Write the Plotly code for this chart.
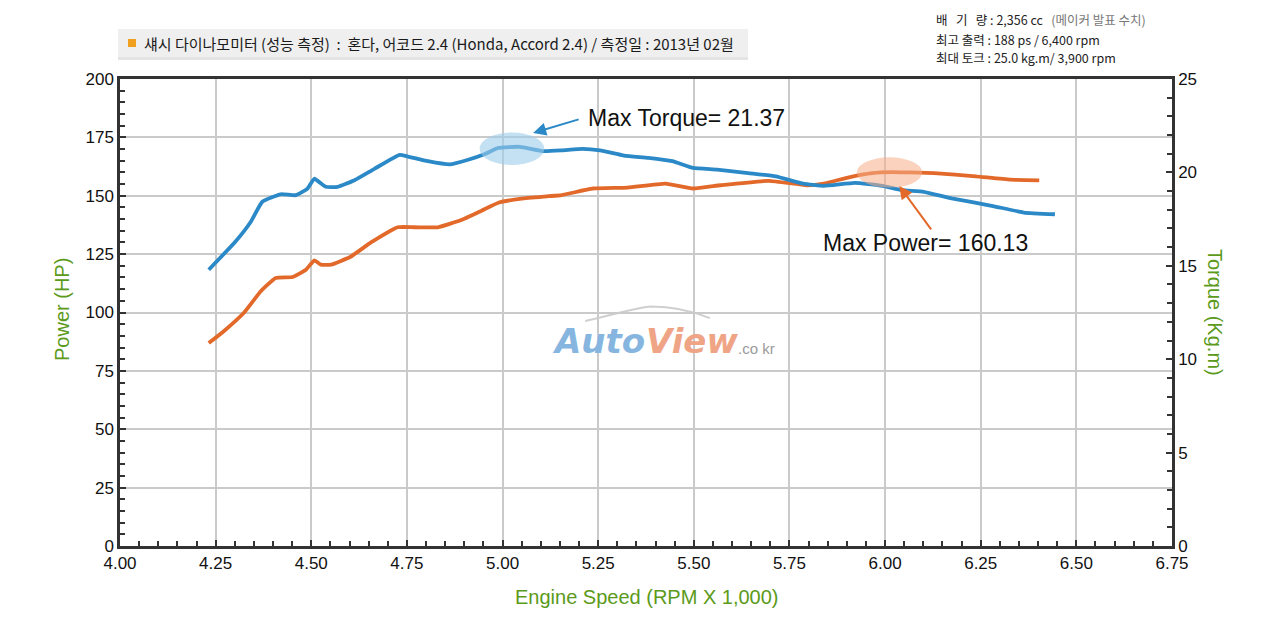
import plotly.graph_objects as go

# ---------------- data ----------------
rpm_power = [4.232, 4.272, 4.324, 4.368, 4.407, 4.451, 4.486, 4.508, 4.525, 4.552,
             4.604, 4.656, 4.726, 4.770, 4.831, 4.892, 4.945, 4.989, 5.050, 5.120,
             5.155, 5.236, 5.327, 5.426, 5.498, 5.570, 5.696, 5.795, 5.840, 5.903,
             5.966, 6.020, 6.056, 6.128, 6.237, 6.327, 6.403]
power_hp = [86.9, 92.1, 99.9, 109.1, 114.8, 115.2, 118.3, 122.3, 120.5, 120.5,
            124.0, 130.0, 136.5, 136.5, 136.5, 139.6, 143.6, 147.0, 148.8, 149.8,
            150.3, 153.1, 153.5, 155.2, 153.1, 154.5, 156.4, 154.5, 155.2, 157.8,
            159.7, 160.13, 160.0, 159.7, 158.3, 156.9, 156.6]

rpm_torque = [4.232, 4.302, 4.342, 4.372, 4.420, 4.460, 4.490, 4.508, 4.538, 4.569,
              4.613, 4.665, 4.731, 4.753, 4.805, 4.862, 4.910, 4.954, 4.989, 5.045,
              5.107, 5.155, 5.209, 5.255, 5.318, 5.381, 5.444, 5.498, 5.561, 5.642,
              5.714, 5.786, 5.840, 5.921, 5.993, 6.043, 6.101, 6.174, 6.282, 6.363, 6.444]
torque_kgm = [14.79, 16.30, 17.36, 18.43, 18.83, 18.78, 19.13, 19.66, 19.23, 19.23,
              19.58, 20.19, 20.94, 20.85, 20.60, 20.43, 20.68, 20.99, 21.31, 21.37,
              21.14, 21.18, 21.26, 21.18, 20.90, 20.78, 20.60, 20.24, 20.15, 19.96,
              19.79, 19.40, 19.28, 19.44, 19.28, 19.05, 18.96, 18.61, 18.20, 17.85, 17.76]

x_ticks = [4.00, 4.25, 4.50, 4.75, 5.00, 5.25, 5.50, 5.75, 6.00, 6.25, 6.50, 6.75]
power_ticks = [0, 25, 50, 75, 100, 125, 150, 175, 200]
torque_ticks = [0, 5, 10, 15, 20, 25]

header_text = "섀시 다이나모미터 (성능 측정)  :  혼다, 어코드 2.4 (Honda, Accord 2.4) / 측정일 : 2013년 02월"
spec_lines = ["배\u00a0\u00a0\u00a0기\u00a0\u00a0\u00a0량 : 2,356 cc \u00a0\u00a0<span style='color:#777777'>(메이커 발표 수치)</span>",
              "최고 출력 : 188 ps / 6,400 rpm",
              "최대 토크 : 25.0 kg.m/ 3,900 rpm"]
max_torque_label = "Max Torque= 21.37"
max_power_label = "Max Power= 160.13"

# ---------------- styling ----------------
BLUE = "#2b89c7"
ORANGE = "#e2692a"
GREEN = "#5b9a1a"
AXIS = "#333333"
GRID = "#cacaca"
FONT = "Liberation Sans, Arial, sans-serif"
KFONT = "Noto Sans CJK KR, sans-serif"

L, R, T, B = 120, 108, 79, 74
PW, PH = 1280 - L - R, 620 - T - B


def px(xp):
    return (xp - L) / PW


def py(yp):
    return (620 - B - yp) / PH


fig = go.Figure()
fig.add_trace(go.Scatter(x=rpm_power, y=power_hp, mode="lines", name="Power",
                         line=dict(color=ORANGE, width=3.8, shape="spline", smoothing=0.4),
                         yaxis="y", hoverinfo="skip"))
fig.add_trace(go.Scatter(x=rpm_torque, y=torque_kgm, mode="lines", name="Torque",
                         line=dict(color=BLUE, width=3.8, shape="spline", smoothing=0.4),
                         yaxis="y2", hoverinfo="skip"))

fig.update_layout(
    width=1280, height=620,
    margin=dict(l=L, r=R, t=T, b=B),
    paper_bgcolor="white", plot_bgcolor="white",
    showlegend=False,
    font=dict(family=FONT, color="#111111"),
    xaxis=dict(range=[4.0, 6.75], tickvals=x_ticks, tickformat=".2f",
               showgrid=True, gridcolor=GRID, gridwidth=1.5,
               showline=True, linecolor=AXIS, linewidth=2.5, mirror=True,
               ticks="inside", ticklen=6, tickwidth=1.5, tickcolor=AXIS,
               minor=dict(dtick=0.05, ticks="inside", ticklen=5, tickwidth=1.5,
                          tickcolor=AXIS, showgrid=False),
               tickfont=dict(size=17, color="#111111"), zeroline=False, fixedrange=True),
    yaxis=dict(range=[0, 200], tickvals=power_ticks,
               showgrid=True, gridcolor=GRID, gridwidth=1.5,
               showline=True, linecolor=AXIS, linewidth=2.5,
               ticks="inside", ticklen=6, tickwidth=1.5, tickcolor=AXIS,
               minor=dict(dtick=5, ticks="inside", ticklen=5, tickwidth=1.5,
                          tickcolor=AXIS, showgrid=False),
               tickfont=dict(size=17, color="#111111"), zeroline=False, fixedrange=True),
    yaxis2=dict(range=[0, 25], tickvals=torque_ticks, overlaying="y", side="right",
                showgrid=False, showline=True, linecolor=AXIS, linewidth=2.5,
                ticks="inside", ticklen=6, tickwidth=1.5, tickcolor=AXIS,
                minor=dict(dtick=1, ticks="inside", ticklen=5, tickwidth=1.5,
                           tickcolor=AXIS, showgrid=False),
                tickfont=dict(size=17, color="#111111"), zeroline=False, fixedrange=True),
)

shapes = [
    # header bar
    dict(type="rect", xref="paper", yref="paper", x0=px(118), x1=px(748), y0=py(59), y1=py(29),
         fillcolor="#efefef", line=dict(width=0), layer="below"),
    dict(type="rect", xref="paper", yref="paper", x0=px(118), x1=px(748), y0=py(60), y1=py(57),
         fillcolor="#e4e4e4", line=dict(width=0), layer="below"),
    dict(type="rect", xref="paper", yref="paper", x0=px(128), x1=px(136), y0=py(47), y1=py(39),
         fillcolor="#f0a01e", line=dict(width=0)),
    # highlight ellipses
    dict(type="circle", xref="x", yref="y", x0=4.94, x1=5.109, y0=163.2, y1=177.1,
         fillcolor="#9ccbeb", opacity=0.6, line=dict(width=0), layer="above"),
    dict(type="circle", xref="x", yref="y", x0=5.926, x1=6.097, y0=153.5, y1=166.5,
         fillcolor="#f5ad88", opacity=0.55, line=dict(width=0), layer="above"),
    # watermark swoosh
    dict(type="path", xref="x", yref="y",
         path="M 5.216,96.4 C 5.28,98.5 5.33,101.5 5.386,102.6 C 5.45,102.6 5.50,100.5 5.542,97.6",
         line=dict(color="#cfcfcf", width=2), layer="below"),
]
fig.update_layout(shapes=shapes)

C = dict(xanchor="center", yanchor="middle", showarrow=False)
ann = [
    # header
    dict(xref="paper", yref="paper", x=px(142), y=py(43), xanchor="left", yanchor="middle",
         text=header_text, showarrow=False, font=dict(family=KFONT, size=15, color="#1a1a1a")),
    # axis titles
    dict(xref="paper", yref="paper", x=px(62), y=py(310), text="Power (HP)", textangle=-90,
         font=dict(family=FONT, size=20, color=GREEN), **C),
    dict(xref="paper", yref="paper", x=px(1215), y=py(312), text="Torque (Kg.m)", textangle=90,
         font=dict(family=FONT, size=20, color=GREEN), **C),
    dict(xref="paper", yref="paper", x=px(647), y=py(597), text="Engine Speed (RPM X 1,000)",
         font=dict(family=FONT, size=20, color=GREEN), **C),
    # max labels
    dict(xref="paper", yref="paper", x=px(586), y=py(118), xanchor="left", yanchor="middle",
         text=max_torque_label, showarrow=False, font=dict(family=FONT, size=23, color="#111111")),
    dict(xref="paper", yref="paper", x=px(821), y=py(243), xanchor="left", yanchor="middle",
         text=max_power_label, showarrow=False, font=dict(family=FONT, size=23, color="#111111")),
    # arrows
    dict(xref="x", yref="y", x=5.080, y=176.9, ax=47, ay=-14, text="", showarrow=True,
         arrowhead=2, arrowsize=1.3, arrowwidth=2, arrowcolor=BLUE),
    dict(xref="x", yref="y", x=6.037, y=154.2, ax=33, ay=45, text="", showarrow=True,
         arrowhead=2, arrowsize=1.3, arrowwidth=2, arrowcolor=ORANGE),
    # watermark
    dict(xref="x", yref="y", x=5.25, y=88.0, text="Auto",
         font=dict(family="DejaVu Sans", size=34, color="#86b6df", weight="bold", style="italic"), **C),
    dict(xref="x", yref="y", x=5.495, y=88.0, text="View",
         font=dict(family="DejaVu Sans", size=34, color="#efa486", weight="bold", style="italic"), **C),
    dict(xref="x", yref="y", x=5.665, y=84.5, text=".co kr",
         font=dict(family=FONT, size=15, color="#9a9a9a"), **C),
]
for i, line in enumerate(spec_lines):
    ann.append(dict(xref="paper", yref="paper", x=px(934), y=py([20, 39, 57][i]),
                    xanchor="left", yanchor="middle", text=line, showarrow=False,
                    font=dict(family=KFONT, size=12.5, color="#222222")))
fig.update_layout(annotations=ann)

fig.write_html("out.html", config={"displayModeBar": False},
               post_script="document.body.style.margin='0';")
